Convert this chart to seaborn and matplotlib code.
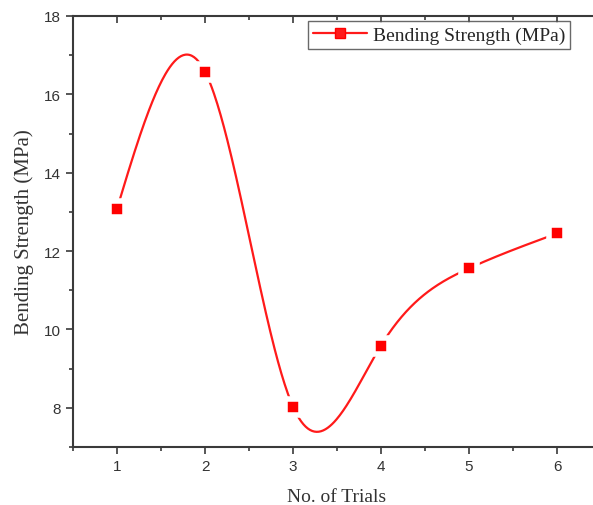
import numpy as np
import pandas as pd
import matplotlib
matplotlib.use('Agg')
import matplotlib.pyplot as plt
import seaborn as sns
from matplotlib.ticker import MultipleLocator

trials = [1, 2, 3, 4, 5, 6]
strength = [13.08, 16.58, 8.03, 9.59, 11.56, 12.45]

df = pd.DataFrame({'No. of Trials': trials, 'Bending Strength (MPa)': strength})


def natural_spline(x, y, n=400):
    # plain natural cubic spline for the smooth connecting line
    x = np.asarray(x, float)
    y = np.asarray(y, float)
    k = len(x)
    h = np.diff(x)
    A = np.zeros((k, k))
    b = np.zeros(k)
    A[0, 0] = A[-1, -1] = 1
    for i in range(1, k - 1):
        A[i, i - 1] = h[i - 1]
        A[i, i] = 2 * (h[i - 1] + h[i])
        A[i, i + 1] = h[i]
        b[i] = 3 * ((y[i + 1] - y[i]) / h[i] - (y[i] - y[i - 1]) / h[i - 1])
    c = np.linalg.solve(A, b)
    xs = np.linspace(x[0], x[-1], n)
    idx = np.clip(np.searchsorted(x, xs) - 1, 0, k - 2)
    dx = xs - x[idx]
    bb = (y[idx + 1] - y[idx]) / h[idx] - h[idx] * (2 * c[idx] + c[idx + 1]) / 3
    dd = (c[idx + 1] - c[idx]) / (3 * h[idx])
    ys = y[idx] + bb * dx + c[idx] * dx ** 2 + dd * dx ** 3
    return xs, ys


sns.set_style('ticks')
plt.rcParams['font.family'] = ['Liberation Sans', 'DejaVu Sans']

fig = plt.figure(figsize=(5.93, 5.06), dpi=100)
ax = fig.add_axes([73 / 593, 58 / 506, 528 / 593, 431 / 506])

xs, ys = natural_spline(trials, strength)
ax.plot(xs, ys, color='#ff1a1a', lw=1.6, zorder=2)
sns.scatterplot(data=df, x='No. of Trials', y='Bending Strength (MPa)', marker='s',
                s=130, color='#ff0000', edgecolor='white', linewidth=4, zorder=3,
                ax=ax, legend=False)

ax.plot([], [], color='#ff1a1a', lw=1.6, marker='s', ms=7.5, mec='#ff0000',
        label='Bending Strength (MPa)')

ax.set_xlim(0.5, 6.5)
ax.set_ylim(7, 18)
ax.xaxis.set_major_locator(MultipleLocator(1))
ax.xaxis.set_minor_locator(MultipleLocator(0.5))
ax.yaxis.set_minor_locator(MultipleLocator(1))
ax.set_yticks([8, 10, 12, 14, 16, 18])

for s in ax.spines.values():
    s.set_visible(True)
    s.set_linewidth(1.5)
    s.set_color('#3a3a3a')

ax.tick_params(which='both', direction='out', colors='#3a3a3a', labelcolor='#333333',
               labelsize=11, width=1.2)
ax.tick_params(which='major', length=5)
ax.tick_params(which='minor', length=3)
ax.tick_params(axis='x', which='both', top=True, labeltop=False)
ax.tick_params(axis='y', which='both', right=True, labelright=False)
# Origin style: opposite axes tick inward
for t in ax.xaxis.get_major_ticks() + ax.xaxis.get_minor_ticks():
    t.tick2line.set_marker(3)
for t in ax.yaxis.get_major_ticks() + ax.yaxis.get_minor_ticks():
    t.tick2line.set_marker(0)

ax.set_xlabel('No. of Trials', family=['Liberation Serif'], fontsize=14, color='#333333', labelpad=11)
ax.set_ylabel('Bending Strength (MPa)', family=['Liberation Serif'], fontsize=15, color='#333333', labelpad=7)

leg = ax.legend(loc='upper left', bbox_to_anchor=(235 / 528, 0.988), borderaxespad=0,
                frameon=True, fancybox=False, edgecolor='#444444',
                prop={'family': 'Liberation Serif', 'size': 14},
                handlelength=2.8, borderpad=0.25, handletextpad=0.3)
leg.get_frame().set_linewidth(1.0)

fig.savefig('out.png', dpi=100, facecolor='white')
